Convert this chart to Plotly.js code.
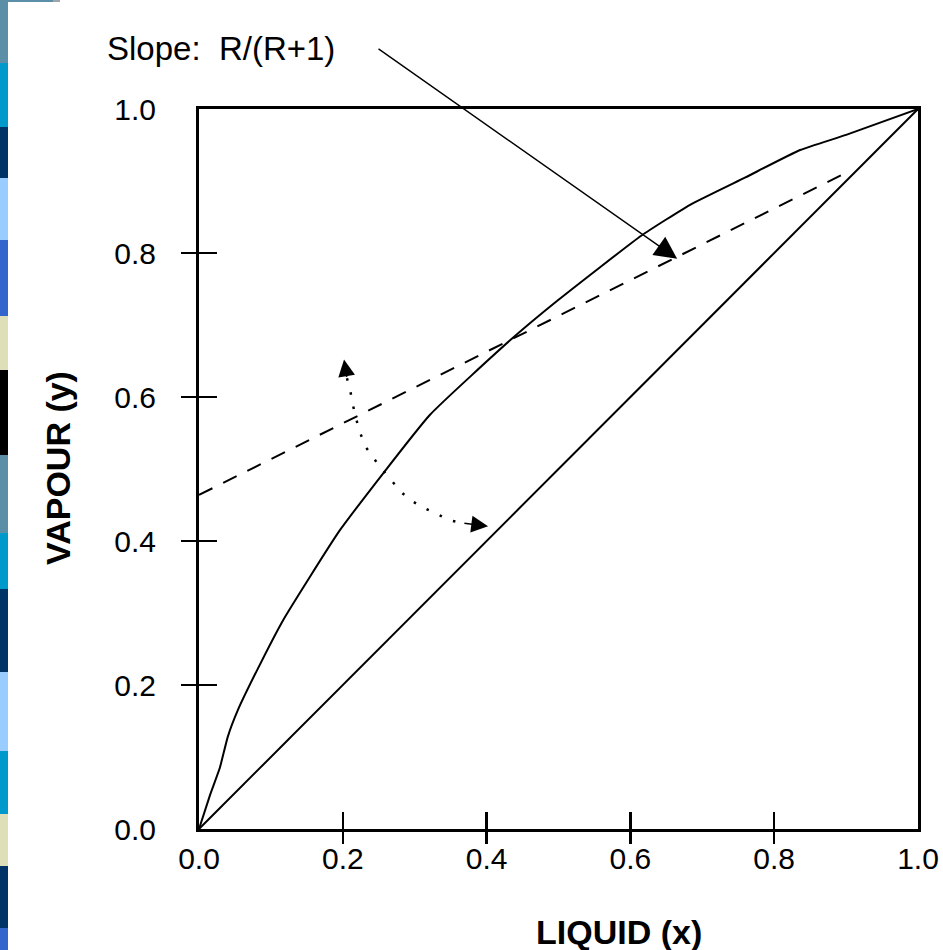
<!DOCTYPE html>
<html>
<head>
<meta charset="utf-8">
<script src="https://cdn.plot.ly/plotly-3.0.1.min.js"></script>
<style>
  html, body { margin: 0; padding: 0; background: #ffffff; }
  #chart { width: 943px; height: 950px; }
</style>
</head>
<body>
<div id="chart"></div>
<script>
// ---- data ----
const diagX = [0, 1];
const diagY = [0, 1];

const eqX = [0, 0.0153, 0.029, 0.040, 0.054, 0.081, 0.117, 0.196, 0.321, 0.433, 0.50, 0.615, 0.683, 0.760, 0.836, 0.90, 1.0];
const eqY = [0, 0.047, 0.085, 0.128, 0.165, 0.221, 0.290, 0.415, 0.575, 0.679, 0.735, 0.824, 0.867, 0.905, 0.943, 0.964, 1.0];

const opX = [0, 0.901];
const opY = [0.464, 0.912];

const dotX = [0.2058, 0.210, 0.214, 0.2225, 0.232, 0.2406, 0.2545, 0.281, 0.296, 0.313, 0.331, 0.348, 0.367];
const dotY = [0.626, 0.611, 0.589, 0.554, 0.5306, 0.518, 0.500, 0.468, 0.4556, 0.4458, 0.4375, 0.429, 0.425];

const tickVals = [0, 0.2, 0.4, 0.6, 0.8, 1.0];
const tickText = ['0.0', '0.2', '0.4', '0.6', '0.8', '1.0'];
const markVals = [0.2, 0.4, 0.6, 0.8];

const slopeLabel = 'Slope:  R/(R+1)';
const slopeTail = [0.2476, 1.085];
const slopeTip = [0.665, 0.792];
const upTail = [0.2058, 0.626];
const upTip = [0.2017, 0.652];
const rightTail = [0.367, 0.425];
const rightTip = [0.4020, 0.4205];

const xTitle = 'LIQUID (x)';
const yTitle = 'VAPOUR (y)';

// decorative left stripe: [top px, bottom px, colour]
const stripe = [
  [0, 63, '#5b8fa8'], [63, 127, '#0099cc'], [127, 178, '#003366'], [178, 240, '#99ccff'],
  [240, 316, '#3366cc'], [316, 370, '#dedfb9'], [370, 455, '#000000'], [455, 533, '#5b8fa8'],
  [533, 589, '#0099cc'], [589, 672, '#003366'], [672, 751, '#99ccff'], [751, 814, '#0099cc'],
  [814, 866, '#dedfb9'], [866, 928, '#003366'], [928, 950, '#3366cc']
];

// ---- layout geometry ----
const L = 199, R = 25, T = 109, B = 121, W = 943, H = 950;
const PW = W - L - R, PH = H - T - B;
const px2x = p => (p - L) / PW;
const py2y = p => (H - B - p) / PH;

const FONT = '"Liberation Sans", Arial, Helvetica, sans-serif';

const shapes = stripe.map(s => ({
  type: 'rect', xref: 'paper', yref: 'paper', layer: 'above',
  x0: px2x(0), x1: px2x(8), y0: py2y(s[1]), y1: py2y(s[0]),
  fillcolor: s[2], line: { width: 0 }
}));
shapes.push({ type: 'rect', xref: 'paper', yref: 'paper', layer: 'above',
  x0: px2x(8), x1: px2x(53), y0: py2y(2), y1: py2y(0), fillcolor: '#5b8fa8', line: { width: 0 } });
shapes.push({ type: 'rect', xref: 'paper', yref: 'paper', layer: 'above',
  x0: px2x(53), x1: px2x(60), y0: py2y(2), y1: py2y(0), fillcolor: '#a0a4a8', line: { width: 0 } });

const traces = [
  { x: diagX, y: diagY, mode: 'lines', line: { color: '#000', width: 2 }, hoverinfo: 'skip' },
  { x: eqX, y: eqY, mode: 'lines', line: { color: '#000', width: 2, shape: 'spline', smoothing: 0.4 }, hoverinfo: 'skip' },
  { x: opX, y: opY, mode: 'lines', line: { color: '#000', width: 2, dash: '15px,12px' }, hoverinfo: 'skip' },
  { x: dotX, y: dotY, mode: 'lines', line: { color: '#000', width: 2.5, dash: '2.5px,12px' }, hoverinfo: 'skip' },
  { x: [0, 1], y: [0, 1], xaxis: 'x2', yaxis: 'y2', mode: 'lines', opacity: 0, line: { width: 0.1 }, hoverinfo: 'skip' },
  { x: [0, 1], y: [0, 1], xaxis: 'x3', yaxis: 'y3', mode: 'lines', opacity: 0, line: { width: 0.1 }, hoverinfo: 'skip' }
];

const tickFont = { family: FONT, size: 30, color: '#000' };
const baseAxis = {
  range: [0, 1], showgrid: false, zeroline: false, fixedrange: true
};
const markAxis = (extra) => Object.assign({}, baseAxis, {
  tickmode: 'array', tickvals: markVals, showticklabels: false, showline: false,
  tickcolor: '#000', tickwidth: 2.5
}, extra);

const arrowStyle = { showarrow: true, arrowhead: 2, arrowsize: 2.1, arrowwidth: 1.6, arrowcolor: '#000',
  text: '', axref: 'x', ayref: 'y', xref: 'x', yref: 'y', standoff: 0, startstandoff: 0 };

const layout = {
  width: W, height: H,
  margin: { l: L, r: R, t: T, b: B, pad: 0 },
  paper_bgcolor: '#ffffff', plot_bgcolor: '#ffffff',
  showlegend: false,
  xaxis: Object.assign({}, baseAxis, {
    tickmode: 'array', tickvals: tickVals, ticktext: tickText, tickfont: tickFont,
    ticks: '', ticklabelstandoff: 1,
    showline: true, mirror: true, linecolor: '#000', linewidth: 3
  }),
  yaxis: Object.assign({}, baseAxis, {
    tickmode: 'array', tickvals: tickVals, ticktext: tickText, tickfont: tickFont,
    ticks: 'outside', ticklen: 17, tickcolor: 'rgba(0,0,0,0)', ticklabelstandoff: 17,
    showline: true, mirror: true, linecolor: '#000', linewidth: 3
  }),
  xaxis2: markAxis({ overlaying: 'x', anchor: 'y2', side: 'bottom', ticks: 'outside', ticklen: 14 }),
  yaxis2: markAxis({ overlaying: 'y', anchor: 'x2', side: 'left', ticks: 'outside', ticklen: 17 }),
  xaxis3: markAxis({ overlaying: 'x', anchor: 'y3', side: 'bottom', ticks: 'inside', ticklen: 17 }),
  yaxis3: markAxis({ overlaying: 'y', anchor: 'x3', side: 'left', ticks: 'inside', ticklen: 18 }),
  shapes: shapes,
  annotations: [
    Object.assign({}, arrowStyle, { x: slopeTip[0], y: slopeTip[1], ax: slopeTail[0], ay: slopeTail[1], arrowwidth: 1.4, arrowsize: 3.2 }),
    Object.assign({}, arrowStyle, { x: upTip[0], y: upTip[1], ax: upTail[0], ay: upTail[1] }),
    Object.assign({}, arrowStyle, { x: rightTip[0], y: rightTip[1], ax: rightTail[0], ay: rightTail[1] }),
    { text: slopeLabel, xref: 'paper', yref: 'paper', x: px2x(105), y: py2y(48),
      xanchor: 'left', yanchor: 'middle', showarrow: false,
      font: { family: FONT, size: 33, color: '#000' } },
    { text: '<b>' + xTitle + '</b>', xref: 'paper', yref: 'paper', x: px2x(619), y: py2y(932),
      xanchor: 'center', yanchor: 'middle', showarrow: false,
      font: { family: FONT, size: 34, color: '#000' } },
    { text: '<b>' + yTitle + '</b>', xref: 'paper', yref: 'paper', x: px2x(58), y: py2y(468),
      xanchor: 'center', yanchor: 'middle', showarrow: false, textangle: -90,
      font: { family: FONT, size: 34, color: '#000' } }
  ]
};

Plotly.newPlot('chart', traces, layout, { staticPlot: true, displayModeBar: false });
</script>
</body>
</html>
